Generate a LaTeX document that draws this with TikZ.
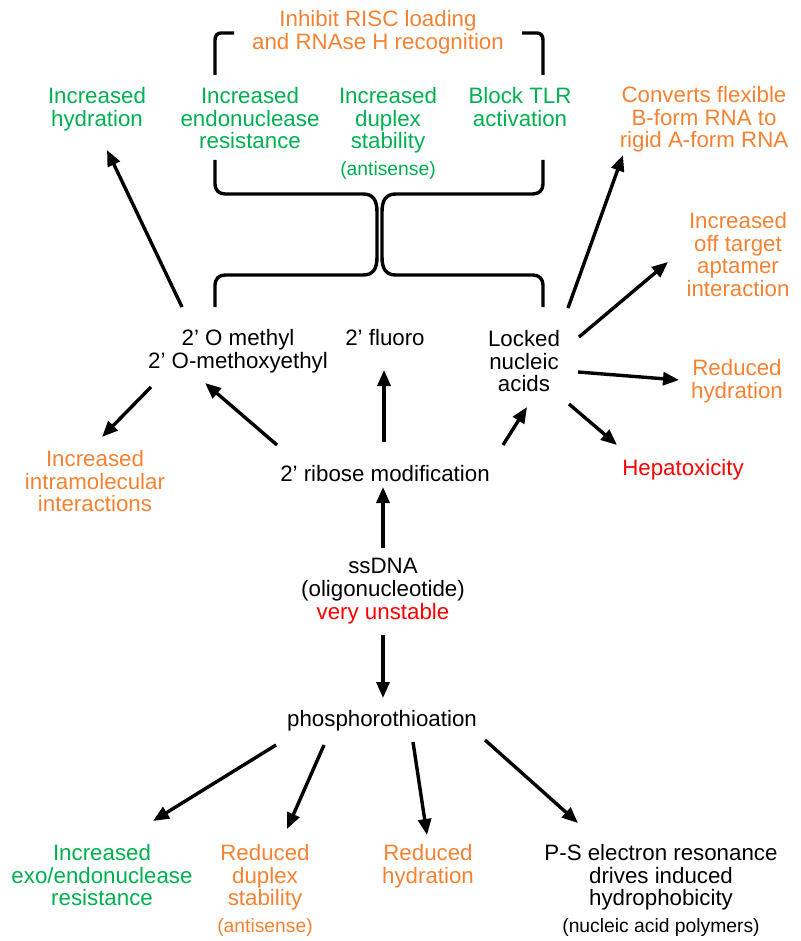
\documentclass[tikz,border=0pt]{standalone}
\usepackage{fontspec}
\setmainfont{Liberation Sans}
\usetikzlibrary{arrows.meta,calc}
\definecolor{cgreen}{RGB}{0,176,80}
\definecolor{corange}{RGB}{245,130,50}
\definecolor{cred}{RGB}{255,0,0}
\newcommand{\bigfs}{\fontsize{22.3}{22.8}\selectfont}
\newcommand{\smallfs}{\fontsize{19.3}{22.8}\selectfont}
\begin{document}
\begin{tikzpicture}[x=1pt,y=-1pt,
  lbl/.style={anchor=north,align=center,inner sep=0pt,font=\bigfs},
  arr/.style={line width=3.4pt,-{Triangle[length=16pt,width=13pt]}},
  brk/.style={line width=3.4pt}]
\useasboundingbox (0,0) rectangle (800,941);
% text nodes
\node[lbl,text=corange] (inh) at (378,10) {Inhibit RISC loading\\and RNAse H recognition};
\node[lbl,text=cgreen] (hyd) at (97,87) {Increased\\hydration};
\node[lbl,text=cgreen] (endo) at (250,87) {Increased\\endonuclease\\resistance};
\node[lbl,text=cgreen] (dup) at (388,87) {Increased\\duplex\\stability\\[3.5pt]{\smallfs (antisense)}};
\node[lbl,text=cgreen] (tlr) at (520,87) {Block TLR\\activation};
\node[lbl,text=corange] (conv) at (704,86) {Converts flexible\\B-form RNA to\\rigid A-form RNA};
\node[lbl,text=corange] (off) at (738,212) {Increased\\off target\\aptamer\\interaction};
\node[lbl,text=corange] (redh) at (737,359) {Reduced\\hydration};
\node[lbl,text=cred] (hep) at (683,459) {Hepatoxicity};
\node[lbl] (om) at (238,329) {2’ O methyl\\2’ O-methoxyethyl};
\node[lbl] (fl) at (385,329) {2’ fluoro};
\node[lbl] (lna) at (524,330) {Locked\\nucleic\\acids};
\node[lbl,text=corange] (intra) at (95,450) {Increased\\intramolecular\\interactions};
\node[lbl] (rib) at (385,465) {2’ ribose modification};
\node[lbl] (ss) at (383,558) {ssDNA\\(oligonucleotide)\\{\color{cred}very unstable}};
\node[lbl] (ph) at (382,710) {phosphorothioation};
\node[lbl,text=cgreen] (exo) at (102,844) {Increased\\exo/endonuclease\\resistance};
\node[lbl,text=corange] (rdup) at (265,844) {Reduced\\duplex\\stability\\[3.5pt]{\smallfs (antisense)}};
\node[lbl,text=corange] (rhyd) at (428,844) {Reduced\\hydration};
\node[lbl] (ps) at (661,844) {P-S electron resonance\\drives induced\\hydrophobicity\\[3.5pt]{\smallfs (nucleic acid polymers)}};
% brackets
\draw[brk] (215,75) -- (215,40) .. controls (215,36) and (217,33) .. (221,33) -- (234,33);
\draw[brk] (522,33) -- (537,33) .. controls (541,33) and (543,36) .. (543,40) -- (543,75);
\draw[brk] (215,160) -- (215,184) .. controls (215,190) and (219,194) .. (225,194) -- (363,194)
  .. controls (373,194) and (377,200) .. (377,212) -- (377,257)
  .. controls (377,269) and (373,275) .. (363,275) -- (225,275)
  .. controls (219,275) and (215,279) .. (215,285) -- (215,307);
\draw[brk] (543,160) -- (543,184) .. controls (543,190) and (539,194) .. (533,194) -- (396,194)
  .. controls (386,194) and (382,200) .. (382,212) -- (382,257)
  .. controls (382,269) and (386,275) .. (396,275) -- (533,275)
  .. controls (539,275) and (543,279) .. (543,285) -- (543,307);
% arrows
\draw[arr] ($(om.north)+(-56,-22)$) -- ($(hyd.north)+(10,63)$);
\draw[arr] ($(om.north)+(-87,58)$) -- ($(intra.north)+(7,-13)$);
\draw[arr] ($(rib.north)+(-108,-20)$) -- ($(om.north)+(-33,54)$);
\draw[arr] ($(rib.north)+(-1,-23)$) -- ($(fl.north)+(-1,41)$);
\draw[arr] ($(rib.north)+(118,-20)$) -- ($(lna.north)+(3,77)$);
\draw[arr] ($(ss.north)+(0,-10)$) -- ($(rib.north)+(-2,22)$);
\draw[arr] ($(ss.north)+(0,77)$) -- ($(ph.north)+(1,-12)$);
\draw[arr] ($(lna.north)+(44,-22)$) -- ($(conv.north)+(-81,69)$);
\draw[arr] ($(lna.north)+(55,7)$) -- ($(off.north)+(-70,50)$);
\draw[arr] ($(lna.north)+(54,42)$) -- ($(redh.north)+(-58,21)$);
\draw[arr] ($(lna.north)+(45,74)$) -- ($(hep.north)+(-66,-14)$);
\draw[arr] ($(ph.north)+(-106,35)$) -- ($(exo.north)+(51,-23)$);
\draw[arr] ($(ph.north)+(-58,35)$) -- ($(rdup.north)+(22,-15)$);
\draw[arr] ($(ph.north)+(31,32)$) -- ($(rhyd.north)+(-1,-9)$);
\draw[arr] ($(ph.north)+(103,30)$) -- ($(ps.north)+(-83,-21)$);
\end{tikzpicture}
\end{document}
